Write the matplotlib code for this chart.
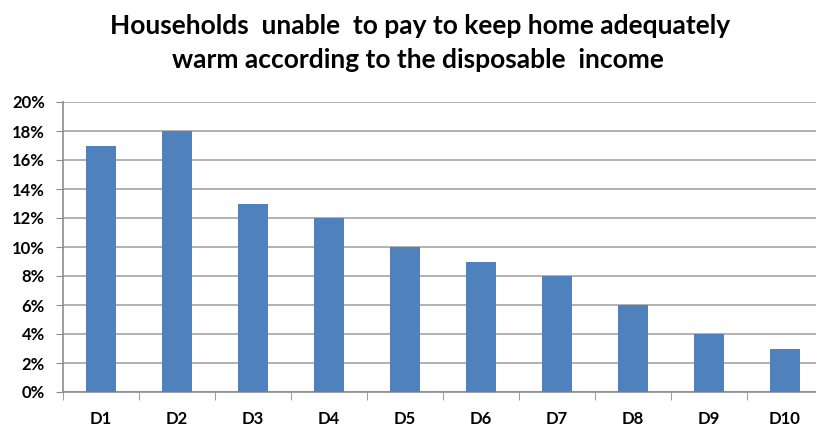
import matplotlib.pyplot as plt
import numpy as np
from matplotlib.ticker import FixedLocator

deciles = ['D1', 'D2', 'D3', 'D4', 'D5', 'D6', 'D7', 'D8', 'D9', 'D10']
share = [17, 18, 13, 12, 10, 9, 8, 6, 4, 3]
y_ticks = [0, 2, 4, 6, 8, 10, 12, 14, 16, 18, 20]

plt.rcParams['font.family'] = ['Lato', 'DejaVu Sans']

fig = plt.figure(figsize=(8.16, 4.32), dpi=100)
ax = fig.add_axes([63/816, 40/432, 760/816, 290/432])

x = np.arange(len(deciles))
ax.bar(x, share, width=0.4, color='#4f81bd', zorder=3)

ax.set_xlim(-0.5, len(deciles) - 0.5)
ax.set_ylim(0, 20)
ax.set_yticks(y_ticks)
ax.set_yticklabels([f'{v}%' for v in y_ticks], fontsize=12, fontweight='bold')
ax.set_xticks(x)
ax.set_xticklabels(deciles, fontsize=12, fontweight='bold')
ax.tick_params(axis='x', length=0, pad=14)
ax.xaxis.set_minor_locator(FixedLocator(np.arange(-0.5, len(deciles), 1)))
ax.tick_params(axis='x', which='minor', length=6, color='#8c8c8c', direction='out')
ax.tick_params(axis='y', length=5, color='#8c8c8c', pad=8)

ax.grid(axis='y', color='#a6a6a6', linewidth=1.2, zorder=0)
for s in ['top', 'right']:
    ax.spines[s].set_visible(False)
for s in ['left', 'bottom']:
    ax.spines[s].set_color('#8c8c8c')
    ax.spines[s].set_linewidth(1.2)

fig.text(420/816, 1 - 26/432, 'Households  unable  to pay to keep home adequately',
         ha='center', va='center', fontsize=19, fontweight='bold')
fig.text(418/816, 1 - 60/432, 'warm according to the disposable  income',
         ha='center', va='center', fontsize=19, fontweight='bold')

fig.savefig('out.png', dpi=100)
